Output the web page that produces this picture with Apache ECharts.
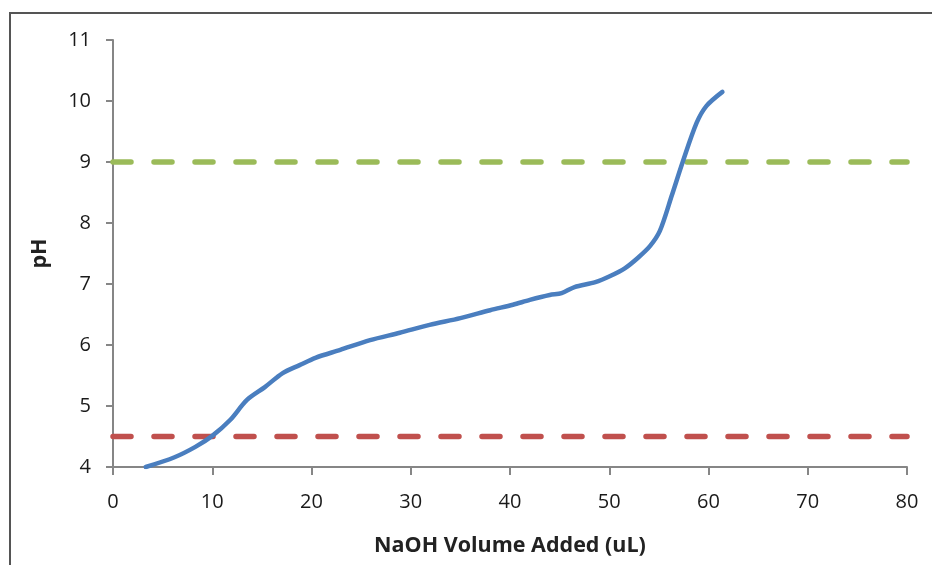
<!DOCTYPE html>
<html><head><meta charset="utf-8">
<script src="https://cdn.jsdelivr.net/npm/echarts@6/dist/echarts.min.js"></script>
<style>html,body{margin:0;padding:0;background:#fff}#c{width:932px;height:565px}
#frame{position:absolute;left:9px;top:12px;width:940px;height:570px;border:2px solid #555;box-sizing:border-box;pointer-events:none}</style>
</head><body>
<div id="c"></div><div id="frame"></div>
<script>
const volume = [3.3, 6.2, 8.3, 10.0, 11.8, 13.5, 15.3, 17.1, 18.8, 20.4, 22.9, 25.9, 28.9, 31.9, 35.0, 38.0, 40.3, 42.0, 44.0, 45.2, 46.5, 48.6, 50.1, 51.6, 52.9, 54.1, 55.1, 56.3, 57.4, 58.8, 59.8, 61.4];
const ph = [4.0, 4.16, 4.33, 4.51, 4.77, 5.1, 5.31, 5.54, 5.67, 5.79, 5.92, 6.08, 6.2, 6.33, 6.44, 6.57, 6.66, 6.74, 6.82, 6.85, 6.95, 7.03, 7.13, 7.26, 7.43, 7.62, 7.87, 8.45, 9.0, 9.64, 9.92, 10.15];
const upperLimit = [[0, 9], [80, 9]];
const lowerLimit = [[0, 4.5], [80, 4.5]];
const xTitle = 'NaOH Volume Added (uL)';
const yTitle = 'pH';

const font = '"Open Sans", "Liberation Sans", sans-serif';
const chart = echarts.init(document.getElementById('c'), null, {renderer: 'canvas'});
chart.setOption({
  animation: false,
  backgroundColor: '#fff',
  grid: {left: 113, right: 25, top: 40, bottom: 98, containLabel: false},
  xAxis: {
    type: 'value', min: 0, max: 80, interval: 10,
    name: xTitle, nameLocation: 'middle', nameGap: 68,
    nameTextStyle: {fontFamily: font, fontSize: 21.5, fontWeight: 'bold', color: '#222'},
    axisLine: {lineStyle: {color: '#868686', width: 2}},
    axisTick: {show: true, length: 8, lineStyle: {color: '#868686', width: 2}},
    axisLabel: {fontFamily: font, fontSize: 20, color: '#1a1a1a', margin: 25},
    splitLine: {show: false}
  },
  yAxis: {
    type: 'value', min: 4, max: 11, interval: 1,
    name: yTitle, nameLocation: 'middle', nameGap: 62, nameRotate: 90,
    nameTextStyle: {fontFamily: font, fontSize: 21.5, fontWeight: 'bold', color: '#222'},
    axisLine: {show: true, lineStyle: {color: '#868686', width: 2}},
    axisTick: {show: true, length: 7, lineStyle: {color: '#868686', width: 2}},
    axisLabel: {fontFamily: font, fontSize: 20, color: '#1a1a1a', margin: 22},
    splitLine: {show: false}
  },
  series: [
    {type: 'line', data: upperLimit, showSymbol: false, silent: true,
     lineStyle: {color: '#9BBB59', width: 5.5, type: [18, 23], cap: 'round'}},
    {type: 'line', data: lowerLimit, showSymbol: false, silent: true,
     lineStyle: {color: '#C0504D', width: 5.5, type: [18, 23], cap: 'round'}},
    {type: 'line', data: volume.map((v, i) => [v, ph[i]]), showSymbol: false, smooth: 0.3,
     lineStyle: {color: '#4A7EBF', width: 4.5, cap: 'round', join: 'round'}}
  ]
});
</script>
</body></html>
